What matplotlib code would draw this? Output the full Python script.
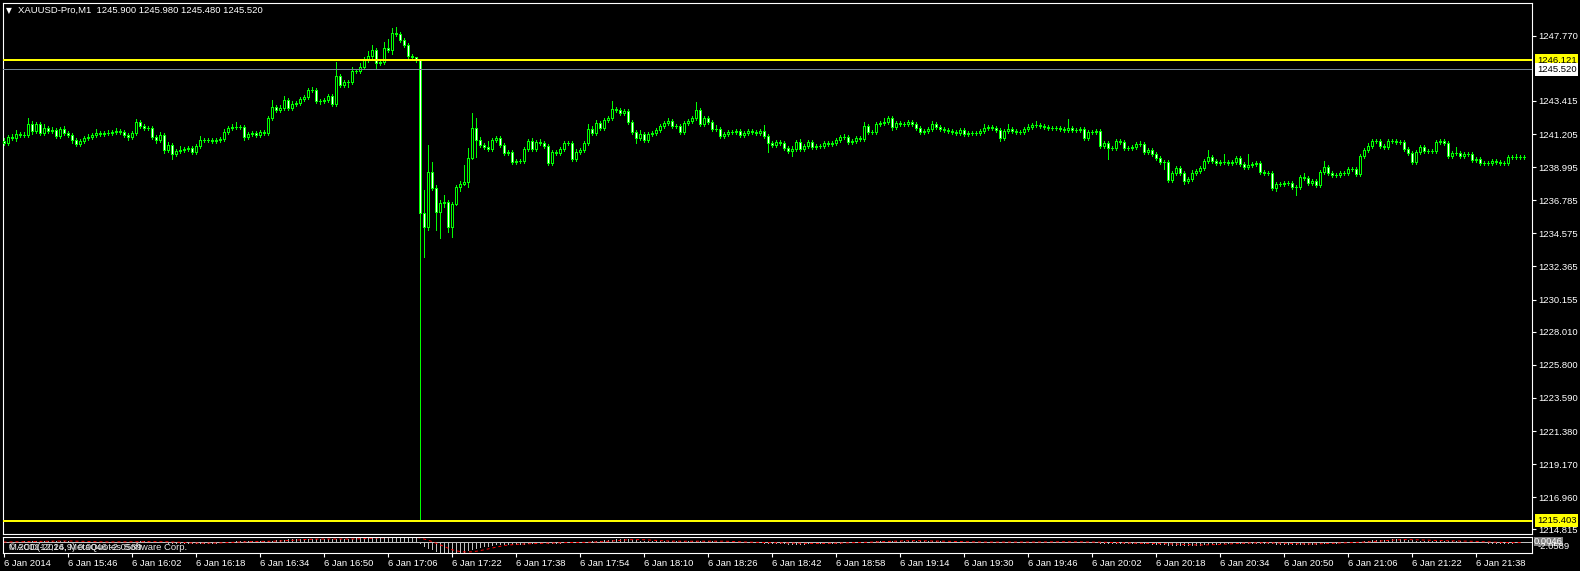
import numpy as np
import pandas as pd
import matplotlib
matplotlib.use("Agg")
import matplotlib.pyplot as plt

plt.rcParams['font.family'] = ['Liberation Sans', 'DejaVu Sans']

# XAUUSD M1, 6 Jan 2014, one candle per minute from 15:30
symbol = "XAUUSD-Pro,M1"
last_ohlc = ["1245.900", "1245.980", "1245.480", "1245.520"]
first_open = 1240.74
closes = [
    1240.61, 1241.01, 1240.94, 1241.21, 1241.14, 1241.14, 1241.88, 1241.41, 1241.88, 1241.28,
    1241.61, 1241.41, 1241.48, 1241.08, 1241.54, 1241.28, 1241.14, 1240.81, 1240.54, 1240.74,
    1240.94, 1241.01, 1241.14, 1241.28, 1241.21, 1241.28, 1241.28, 1241.34, 1241.41, 1241.34,
    1241.14, 1241.01, 1241.28, 1242.01, 1241.74, 1241.61, 1241.61, 1241.01, 1240.81, 1241.14,
    1240.14, 1240.47, 1239.87, 1240.07, 1240.14, 1240.21, 1240.27, 1240.01, 1240.41, 1240.81,
    1240.81, 1240.81, 1240.74, 1240.81, 1240.87, 1241.34, 1241.61, 1241.68, 1241.68, 1241.68,
    1241.01, 1241.21, 1241.28, 1241.14, 1241.34, 1241.28, 1242.28, 1243.01, 1242.81, 1242.94,
    1243.48, 1242.94, 1243.21, 1243.28, 1243.54, 1243.68, 1244.15, 1244.15, 1243.41, 1243.41,
    1243.48, 1243.75, 1243.21, 1245.08, 1244.48, 1244.68, 1244.68, 1245.41, 1245.41, 1245.68,
    1246.15, 1246.42, 1246.82, 1245.95, 1246.01, 1246.95, 1246.82, 1247.95, 1247.88, 1247.48,
    1247.15, 1246.42, 1246.35, 1246.12, 1235.94, 1235.00, 1238.67, 1237.60, 1236.00, 1236.60,
    1236.67, 1235.00, 1236.54, 1237.67, 1237.87, 1238.00, 1239.61, 1241.61, 1240.81, 1240.47,
    1240.34, 1240.21, 1240.81, 1240.94, 1240.47, 1239.94, 1240.01, 1239.34, 1239.41, 1239.41,
    1240.21, 1240.74, 1240.21, 1240.67, 1240.61, 1240.41, 1239.27, 1240.01, 1239.94, 1240.21,
    1240.61, 1240.61, 1239.54, 1240.01, 1240.14, 1240.61, 1241.54, 1241.28, 1241.94, 1241.61,
    1242.14, 1242.28, 1242.88, 1242.81, 1242.61, 1242.74, 1242.01, 1241.34, 1240.94, 1241.21,
    1240.81, 1241.21, 1241.28, 1241.48, 1241.74, 1241.94, 1242.08, 1241.74, 1241.74, 1241.34,
    1241.94, 1242.08, 1242.28, 1242.81, 1241.88, 1242.28, 1242.01, 1241.54, 1241.54, 1241.08,
    1241.21, 1241.34, 1241.34, 1241.41, 1241.14, 1241.28, 1241.41, 1241.34, 1241.28, 1241.41,
    1241.08, 1240.61, 1240.47, 1240.67, 1240.61, 1240.27, 1240.07, 1240.21, 1240.67, 1240.21,
    1240.41, 1240.67, 1240.34, 1240.41, 1240.41, 1240.61, 1240.54, 1240.61, 1240.81, 1241.01,
    1241.01, 1240.67, 1240.74, 1240.94, 1240.87, 1241.74, 1241.34, 1241.34, 1241.88, 1241.94,
    1242.01, 1242.28, 1241.68, 1241.94, 1241.88, 1241.88, 1242.01, 1241.88, 1241.61, 1241.34,
    1241.41, 1241.54, 1241.88, 1241.68, 1241.54, 1241.48, 1241.41, 1241.34, 1241.28, 1241.48,
    1241.21, 1241.28, 1241.28, 1241.28, 1241.41, 1241.61, 1241.68, 1241.61, 1241.48, 1240.94,
    1241.41, 1241.54, 1241.41, 1241.34, 1241.34, 1241.54, 1241.68, 1241.81, 1241.81, 1241.74,
    1241.68, 1241.61, 1241.61, 1241.61, 1241.54, 1241.48, 1241.61, 1241.48, 1241.48, 1241.54,
    1240.94, 1241.34, 1241.34, 1241.41, 1240.41, 1240.61, 1240.27, 1240.27, 1240.74, 1240.67,
    1240.27, 1240.27, 1240.34, 1240.54, 1240.54, 1240.01, 1240.14, 1239.87, 1239.61, 1239.34,
    1239.34, 1238.14, 1238.61, 1238.94, 1238.61, 1238.07, 1238.21, 1238.61, 1238.74, 1238.94,
    1239.41, 1239.67, 1239.41, 1239.27, 1239.34, 1239.34, 1239.27, 1239.34, 1239.61, 1239.21,
    1239.01, 1239.14, 1239.21, 1239.27, 1238.67, 1238.61, 1238.61, 1237.60, 1237.87, 1237.87,
    1237.94, 1237.94, 1237.67, 1237.67, 1238.34, 1238.27, 1237.94, 1238.07, 1237.80, 1238.67,
    1239.01, 1238.61, 1238.47, 1238.47, 1238.61, 1238.61, 1238.87, 1238.87, 1238.54, 1239.74,
    1240.14, 1240.41, 1240.74, 1240.74, 1240.41, 1240.34, 1240.74, 1240.74, 1240.67, 1240.67,
    1240.21, 1239.94, 1239.34, 1240.01, 1240.34, 1240.07, 1240.07, 1240.07, 1240.67, 1240.74,
    1240.61, 1239.74, 1239.94, 1239.94, 1239.74, 1239.87, 1239.87, 1239.47, 1239.54, 1239.27,
    1239.27, 1239.27, 1239.41, 1239.34, 1239.27, 1239.27, 1239.67, 1239.67, 1239.67, 1239.67,
    1239.67,
]
# wick lengths above / below the body, in cents
wick_up = [
    20, 13, 20, 27, 13, 20, 40, 20, 13, 13,
    27, 13, 20, 13, 13, 20, 13, 13, 13, 13,
    13, 20, 13, 27, 13, 13, 20, 13, 20, 13,
    13, 13, 13, 20, 13, 13, 13, 13, 13, 20,
    13, 20, 13, 13, 27, 13, 13, 13, 13, 27,
    13, 13, 13, 13, 13, 20, 13, 20, 33, 13,
    13, 13, 13, 13, 13, 13, 13, 47, 13, 20,
    27, 13, 20, 13, 13, 13, 13, 20, 13, 13,
    13, 13, 13, 93, 13, 13, 13, 27, 13, 27,
    20, 33, 33, 13, 13, 40, 60, 30, 40, 13,
    13, 13, 13, 0, 0, 153, 180, 67, 20, 20,
    47, 10, 10, 10, 20, 114, 66, 100, 67, 20,
    13, 40, 13, 13, 13, 13, 13, 13, 13, 13,
    13, 13, 20, 13, 20, 13, 13, 13, 13, 13,
    13, 13, 13, 20, 13, 13, 33, 20, 20, 13,
    13, 13, 53, 13, 13, 13, 13, 13, 13, 27,
    13, 13, 13, 13, 13, 13, 20, 13, 13, 13,
    13, 13, 13, 53, 13, 13, 13, 13, 27, 13,
    13, 13, 13, 13, 13, 13, 13, 13, 13, 13,
    40, 13, 13, 13, 13, 13, 13, 20, 13, 20,
    13, 13, 13, 13, 13, 13, 13, 13, 13, 13,
    20, 13, 13, 13, 13, 27, 13, 13, 13, 13,
    27, 13, 13, 13, 13, 13, 13, 13, 13, 13,
    13, 13, 20, 13, 13, 13, 13, 13, 13, 13,
    13, 13, 13, 13, 13, 27, 13, 13, 13, 13,
    13, 33, 13, 13, 13, 13, 20, 13, 27, 13,
    13, 13, 13, 13, 13, 13, 60, 13, 13, 13,
    13, 13, 13, 13, 13, 13, 13, 13, 13, 13,
    13, 13, 13, 13, 20, 13, 13, 13, 13, 13,
    13, 13, 13, 13, 13, 13, 13, 20, 13, 13,
    13, 47, 13, 13, 13, 53, 13, 13, 13, 13,
    13, 73, 13, 13, 13, 13, 13, 13, 13, 13,
    13, 13, 13, 13, 13, 27, 13, 13, 13, 13,
    40, 13, 13, 13, 13, 13, 13, 13, 13, 13,
    13, 20, 13, 13, 13, 13, 13, 13, 13, 13,
    13, 13, 13, 13, 13, 13, 13, 13, 13, 13,
    13, 13, 13, 40, 13, 13, 13, 13, 13, 13,
    13, 13, 13, 13, 13, 13, 13, 13, 20, 13,
    13,
]
wick_dn = [
    13, 13, 13, 20, 13, 13, 13, 20, 13, 13,
    13, 13, 13, 13, 13, 13, 13, 20, 13, 13,
    13, 13, 13, 13, 13, 13, 13, 13, 13, 13,
    13, 20, 13, 13, 13, 13, 13, 13, 20, 13,
    20, 13, 33, 13, 13, 13, 13, 13, 13, 13,
    13, 13, 13, 13, 13, 13, 13, 13, 13, 13,
    20, 13, 13, 13, 13, 13, 13, 13, 13, 13,
    13, 13, 13, 13, 13, 13, 13, 13, 13, 20,
    13, 13, 13, 13, 13, 13, 33, 13, 13, 13,
    13, 13, 13, 33, 13, 13, 13, 27, 13, 13,
    13, 13, 13, 13, 2054, 200, 20, 10, 120, 173,
    26, 33, 67, 10, 30, 10, 33, 10, 114, 13,
    13, 13, 13, 13, 13, 13, 13, 13, 13, 13,
    13, 13, 13, 13, 13, 13, 13, 13, 13, 13,
    13, 13, 13, 13, 13, 13, 13, 13, 13, 13,
    13, 13, 13, 13, 13, 13, 13, 13, 33, 13,
    13, 13, 13, 13, 13, 13, 13, 13, 13, 13,
    13, 13, 13, 13, 13, 13, 13, 13, 13, 13,
    13, 13, 13, 13, 13, 13, 13, 13, 13, 13,
    13, 60, 13, 13, 13, 13, 13, 33, 13, 13,
    13, 13, 13, 13, 13, 13, 13, 13, 13, 13,
    13, 13, 13, 13, 13, 13, 13, 13, 13, 13,
    13, 13, 20, 13, 13, 13, 13, 13, 13, 13,
    13, 13, 13, 13, 13, 13, 13, 13, 13, 13,
    13, 13, 13, 13, 13, 13, 13, 13, 13, 20,
    13, 13, 13, 13, 13, 13, 13, 13, 13, 13,
    13, 13, 13, 13, 13, 13, 13, 13, 13, 13,
    13, 13, 13, 13, 13, 13, 73, 13, 13, 13,
    13, 13, 13, 13, 13, 13, 13, 13, 13, 13,
    47, 13, 13, 13, 13, 20, 13, 13, 13, 13,
    13, 13, 13, 13, 13, 13, 13, 13, 13, 13,
    13, 13, 13, 13, 13, 13, 13, 13, 20, 13,
    13, 13, 13, 53, 13, 13, 13, 13, 13, 13,
    13, 13, 13, 13, 13, 13, 13, 13, 13, 13,
    13, 13, 13, 13, 13, 13, 13, 13, 13, 13,
    13, 13, 13, 13, 13, 13, 13, 13, 13, 13,
    13, 13, 13, 13, 13, 13, 13, 13, 13, 13,
    13, 13, 13, 13, 13, 13, 13, 13, 13, 13,
    13,
]

bid = 1245.520
level_hi = 1246.121
level_lo = 1215.403
price_ticks = ["1247.770", "1243.415", "1241.205", "1238.995", "1236.785", "1234.575",
               "1232.365", "1230.155", "1228.010", "1225.800", "1223.590", "1221.380",
               "1219.170", "1216.960", "1214.815"]
start_time = "15:30"
tick_times = ["15:30", "15:46", "16:02", "16:18", "16:34", "16:50", "17:06", "17:22",
              "17:38", "17:54", "18:10", "18:26", "18:42", "18:58", "19:14", "19:30",
              "19:46", "20:02", "20:18", "20:34", "20:50", "21:06", "21:22", "21:38"]
tick_labels = ["6 Jan 2014"] + ["6 Jan " + t for t in tick_times[1:]]
ind_labels = ["0.0046", "-2.0589"]

GREEN = "#00ff00"
W, H = 1580, 571
PX = 72 / 100  # one pixel in points

c = np.array(closes)
o = np.array([first_open] + closes[:-1])
hi = np.maximum(o, c) + np.array(wick_up) / 100
lo = np.minimum(o, c) - np.array(wick_dn) / 100
x = np.arange(len(c))

fig = plt.figure(figsize=(W / 100, H / 100), dpi=100, facecolor="black")
ax = fig.add_axes([3 / W, 1 - 534 / H, 1529 / W, 531 / H])
ax.set_facecolor("black")
ax.set_xlim(-0.125, -0.125 + 1529 / 4)
ax.set_ylim(1214.51, 1249.95)

ax.vlines(x, lo, hi, color=GREEN, lw=PX, zorder=2, antialiased=False)
bull = c >= o
ax.bar(x[bull], (c - o)[bull], bottom=o[bull], width=0.5, color="black",
       edgecolor=GREEN, linewidth=PX, zorder=3, antialiased=False)
ax.bar(x[~bull], (o - c)[~bull], bottom=c[~bull], width=0.5, color="white",
       edgecolor=GREEN, linewidth=PX, zorder=3, antialiased=False)

ax.axhline(level_hi, color="yellow", lw=2 * PX, zorder=4)
ax.axhline(level_lo, color="yellow", lw=2 * PX, zorder=4)
ax.axhline(bid, color="#778899", lw=PX, zorder=4)

for s in ax.spines.values():
    s.set_color("white")
    s.set_linewidth(0.8)
ax.set_xticks([])
ax.yaxis.tick_right()
ax.set_yticks([float(t) for t in price_ticks])
ax.set_yticklabels(price_ticks)
ax.tick_params(axis="y", colors="white", length=3, width=0.8, pad=1.5, labelsize=6.8)

ytr = ax.get_yaxis_transform()
for val, fc in [(level_hi, "yellow"), (bid, "white"), (level_lo, "yellow")]:
    ax.text(1.0 + 5 / 1529, val, f"{val:.3f}", transform=ytr, ha="left", va="center",
            fontsize=6.8, color="black", zorder=6, clip_on=False,
            bbox=dict(boxstyle="square,pad=0.18", fc=fc, ec="none"))

fig.text(6 / W, 1 - 10.5 / H, "▼", color="white", fontsize=5.5, va="center",
         family=["DejaVu Sans"])
fig.text(18 / W, 1 - 10.7 / H, symbol + "  " + " ".join(last_ohlc), color="white",
         fontsize=6.8, va="center")

# MACD(12,26,9) sub-window computed from the closes
s = pd.Series(closes)
macd = s.ewm(span=12, adjust=False).mean() - s.ewm(span=26, adjust=False).mean()
signal = macd.rolling(9, min_periods=1).mean()

ind = fig.add_axes([3 / W, 1 - 553.3 / H, 1529 / W, 16.6 / H])
ind.set_facecolor("black")
ind.set_xlim(ax.get_xlim())
lo_i = min(macd.min(), signal.min())
hi_i = max(macd.max(), signal.max())
ind.set_ylim(lo_i, hi_i)
ind.axhline(0, color="#c0c0c0", lw=PX)
ind.vlines(x, 0, macd, color="#c0c0c0", lw=PX, antialiased=False)
ind.plot(x, signal, color="red", lw=PX, ls=(0, (3, 3)))
for sp in ind.spines.values():
    sp.set_color("white")
    sp.set_linewidth(0.8)
ind.set_yticks([])

t0 = int(start_time[:2]) * 60 + int(start_time[3:])
tick_pos = [int(t[:2]) * 60 + int(t[3:]) - t0 for t in tick_times]
ind.set_xticks(tick_pos)
ind.set_xticklabels(tick_labels, ha="left")
ind.tick_params(axis="x", colors="white", length=3, width=0.8, pad=1.2, labelsize=6.8)

# overlapping status texts, as MetaTrader draws them
ind.text(6 / 1529, 0.35, "MACD(12,26,9) " + " ".join(ind_labels), transform=ind.transAxes,
         color="#e8e8e8", fontsize=6.8, va="center")
ind.text(6 / 1529, 0.35, "© 2001-2014, MetaQuotes Software Corp.", transform=ind.transAxes,
         color="#e8e8e8", fontsize=6.8, va="center")
fig.text(1534 / W, 1 - 541.5 / H, ind_labels[0], color="white", fontsize=6.8, va="center",
         bbox=dict(boxstyle="square,pad=0.05", fc="#808080", ec="none"))
fig.text(1538 / W, 1 - 546.5 / H, ind_labels[1], color="white", fontsize=6.8, va="center")

fig.savefig("out.png", dpi=100, facecolor="black")
